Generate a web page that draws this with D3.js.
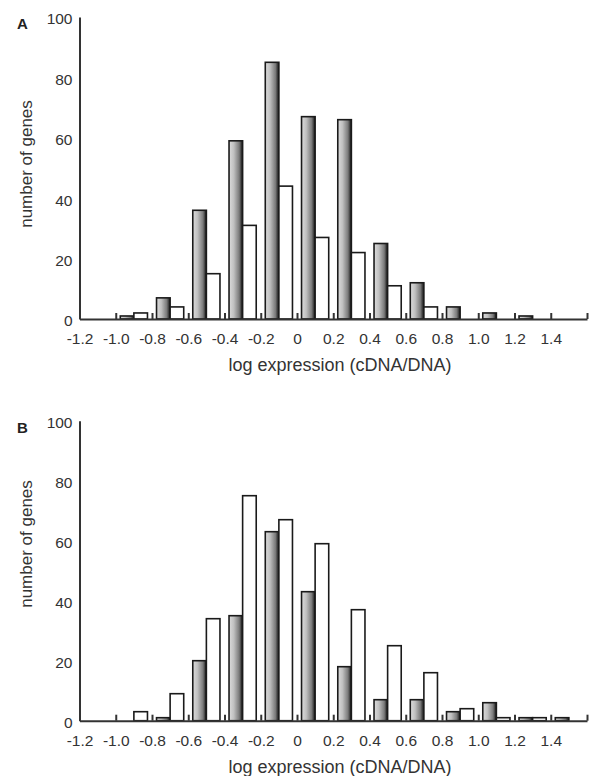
<!DOCTYPE html>
<html>
<head>
<meta charset="utf-8">
<script src="https://cdn.jsdelivr.net/npm/d3@7"></script>
<style>
  body { margin: 0; background: #fff; }
  svg { display: block; font-family: "Liberation Sans", Arial, sans-serif; }
  .axis path, .axis line { stroke: #333; stroke-width: 2; }
  .axis text { fill: #333; font-size: 15.5px; }
  .bar { stroke: #1a1a1a; stroke-width: 1.6; }
</style>
</head>
<body>
<svg id="chart" width="591" height="776"></svg>
<script>
// bin centres (log expression, cDNA/DNA)
var bins   = [-1.1, -0.9, -0.7, -0.5, -0.3, -0.1, 0.1, 0.3, 0.5, 0.7, 0.9, 1.1, 1.3, 1.5];
// panel A
var aGray  = [0, 1, 7, 36, 59, 85, 67, 66, 25, 12, 4, 2, 1, 0];
var aWhite = [0, 2, 4, 15, 31, 44, 27, 22, 11, 4, 0, 0, 0, 0];
// panel B
var bGray  = [0, 0, 1, 20, 35, 63, 43, 18, 7, 7, 3, 6, 1, 1];
var bWhite = [0, 3, 9, 34, 75, 67, 59, 37, 25, 16, 4, 1, 1, 0];

var xTicks = [-1.2, -1.0, -0.8, -0.6, -0.4, -0.2, 0, 0.2, 0.4, 0.6, 0.8, 1.0, 1.2, 1.4, 1.6];
var xLabeled = [-1.2, -1.0, -0.8, -0.6, -0.4, -0.2, 0, 0.2, 0.4, 0.6, 0.8, 1.0, 1.2, 1.4];
var yTicks = [0, 20, 40, 60, 80, 100];
var binHalf = 0.075;

var svg = d3.select('#chart');

var defs = svg.append('defs');
var grad = defs.append('linearGradient')
    .attr('id', 'shade')
    .attr('x1', '0%').attr('x2', '100%')
    .attr('y1', '0%').attr('y2', '0%');
grad.append('stop').attr('offset', '0%').attr('stop-color', '#dcdcdc');
grad.append('stop').attr('offset', '35%').attr('stop-color', '#c0c0c0');
grad.append('stop').attr('offset', '75%').attr('stop-color', '#7a7a7a');
grad.append('stop').attr('offset', '100%').attr('stop-color', '#111');

var x = d3.scaleLinear().domain([-1.2, 1.6]).range([79.5, 587]);

function fmt(d) {
    if (xLabeled.indexOf(d) < 0) { return ''; }
    return d === 0 ? '0' : d.toFixed(1);
}

function panel(letter, gray, white, top, base, ylabY) {
    var y = d3.scaleLinear().domain([0, 100]).range([base, top]);
    var g = svg.append('g');

    var rows = bins.map(function (b, i) {
        return { bin: b, gray: gray[i], white: white[i] };
    });

    g.selectAll('rect.gray')
     .data(rows.filter(function (d) { return d.gray > 0; }))
     .enter().append('rect')
       .attr('class', 'bar gray')
       .attr('x', function (d) { return x(d.bin - binHalf); })
       .attr('y', function (d) { return y(d.gray); })
       .attr('width', function (d) { return x(d.bin) - x(d.bin - binHalf); })
       .attr('height', function (d) { return base - y(d.gray); })
       .attr('fill', 'url(#shade)');

    g.selectAll('rect.white')
     .data(rows.filter(function (d) { return d.white > 0; }))
     .enter().append('rect')
       .attr('class', 'bar white')
       .attr('x', function (d) { return x(d.bin); })
       .attr('y', function (d) { return y(d.white); })
       .attr('width', function (d) { return x(d.bin + binHalf) - x(d.bin); })
       .attr('height', function (d) { return base - y(d.white); })
       .attr('fill', '#fff');

    g.append('g')
     .attr('class', 'axis')
     .attr('transform', 'translate(0,' + base + ')')
     .call(d3.axisBottom(x).tickValues(xTicks).tickFormat(fmt)
             .tickSizeInner(-6).tickSizeOuter(0).tickPadding(14))
     .call(function (a) { a.selectAll('.tick line').attr('stroke-width', 1.6); });

    g.append('g')
     .attr('class', 'axis')
     .attr('transform', 'translate(' + x(-1.2) + ',0)')
     .call(d3.axisLeft(y).tickValues(yTicks).tickSize(0).tickPadding(7))
     .call(function (a) { a.selectAll('.tick text').attr('dy', '0.45em'); });

    g.append('text')
     .attr('x', 17).attr('y', top + 12)
     .attr('font-size', 15).attr('font-weight', 'bold').attr('fill', '#222')
     .text(letter);

    g.append('text')
     .attr('transform', 'translate(32,' + ylabY + ') rotate(-90)')
     .attr('text-anchor', 'middle')
     .attr('font-size', 17).attr('fill', '#333')
     .text('number of genes');

    g.append('text')
     .attr('x', 340).attr('y', base + 52)
     .attr('text-anchor', 'middle')
     .attr('font-size', 18).attr('fill', '#333')
     .text('log expression (cDNA/DNA)');
}

panel('A', aGray, aWhite, 17, 319, 164);
panel('B', bGray, bWhite, 420.7, 720.7, 544);
</script>
</body>
</html>
